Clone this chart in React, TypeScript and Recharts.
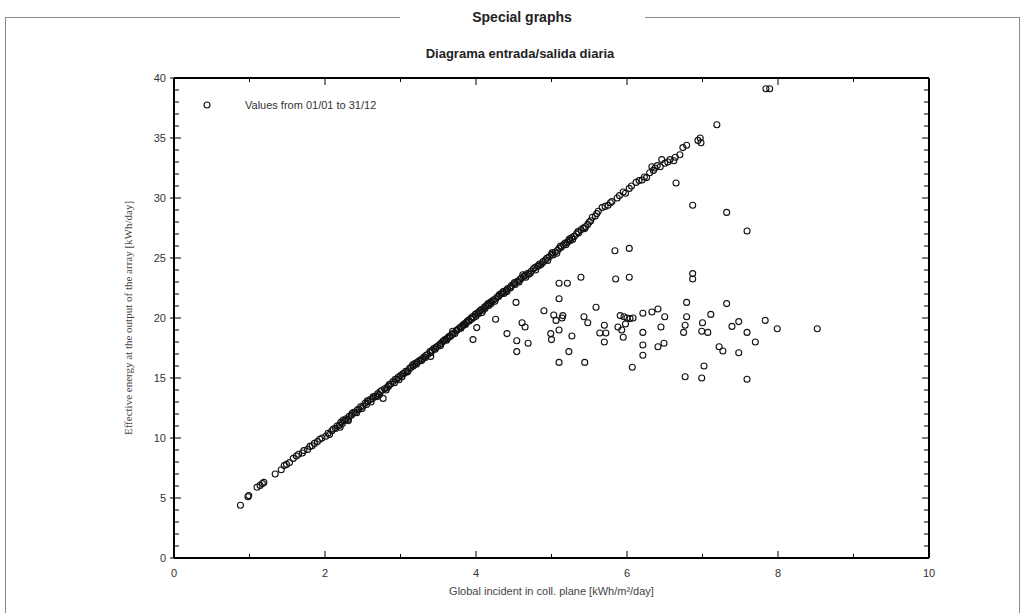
import { ScatterChart, Scatter, XAxis, YAxis, Legend, Label } from "recharts";

type Pair = [number, number];

const xTicks = [0, 1, 2, 3, 4, 5, 6, 7, 8, 9, 10];
const yTicks = Array.from({ length: 41 }, (_, i) => i);
const xLabelEvery = 2;
const yLabelEvery = 5;

// days on the linear part
const dimDays: Pair[] = [
  [0.88, 4.4], [0.98, 5.1], [0.99, 5.2], [1.1, 5.9], [1.14, 6.05], [1.17, 6.2], [1.19, 6.3],
  [1.34, 7.0], [1.42, 7.35], [1.46, 7.7], [1.49, 7.8], [1.53, 7.95], [1.58, 8.3], [1.62, 8.5],
  [1.65, 8.65], [1.7, 8.75], [1.72, 8.95], [1.77, 9.05], [1.8, 9.3], [1.83, 9.35], [1.86, 9.55],
  [1.9, 9.7], [1.93, 9.9], [1.96, 10.0],
];

const averageDays: Pair[] = [
  [2.01, 10.15], [2.04, 10.4], [2.06, 10.3], [2.09, 10.6], [2.11, 10.75], [2.14, 10.8], [2.16, 11.0],
  [2.19, 11.05], [2.21, 11.3], [2.23, 11.2], [2.26, 11.45], [2.28, 11.6], [2.3, 11.55], [2.32, 11.8],
  [2.35, 11.9], [2.38, 12.15], [2.4, 12.1], [2.43, 12.35], [2.45, 12.4], [2.47, 12.6], [2.5, 12.65],
  [2.53, 12.9], [2.55, 12.8], [2.57, 13.05], [2.6, 13.2], [2.63, 13.3], [2.64, 13.45], [2.67, 13.5],
  [2.7, 13.7], [2.72, 13.6], [2.75, 13.95], [2.77, 13.3], [2.79, 14.1], [2.82, 14.2], [2.85, 14.45],
  [2.87, 14.5], [2.9, 14.7], [2.92, 14.6], [2.95, 14.9], [2.97, 15.05], [3.0, 15.2], [3.02, 15.1],
  [3.05, 15.4], [3.07, 15.55], [3.09, 15.5], [3.12, 15.8], [3.14, 15.9], [3.17, 16.0], [3.19, 16.2],
  [3.21, 16.15], [3.24, 16.4], [3.26, 16.5], [3.28, 16.45], [3.31, 16.75], [3.34, 16.9], [3.36, 16.95],
  [3.39, 17.2], [3.42, 17.3], [3.44, 17.45], [3.46, 17.4], [3.49, 17.65], [3.52, 17.8], [3.54, 17.9],
  [3.56, 18.05], [3.59, 18.2], [3.61, 18.15], [3.63, 18.4], [3.65, 18.5], [3.68, 18.6], [3.7, 18.75],
  [3.72, 18.7], [3.74, 18.95], [3.77, 19.1], [3.79, 19.2], [3.81, 19.3], [3.84, 19.5], [3.86, 19.45],
  [3.88, 19.7], [3.9, 19.8], [3.93, 19.95], [3.95, 20.1], [3.97, 20.05], [3.99, 20.3],
];

const brightDays: Pair[] = [
  [4.01, 20.4], [4.03, 20.35], [4.05, 20.6], [4.07, 20.7], [4.09, 20.65], [4.11, 20.9], [4.13, 21.0],
  [4.15, 21.1], [4.17, 21.05], [4.19, 21.3], [4.21, 21.4], [4.23, 21.5], [4.26, 21.6], [4.28, 21.75],
  [4.3, 21.8], [4.33, 22.0], [4.35, 22.1], [4.37, 22.05], [4.4, 22.3], [4.42, 22.45], [4.45, 22.5],
  [4.47, 22.7], [4.5, 22.85], [4.52, 22.8], [4.55, 23.05], [4.58, 23.2], [4.6, 23.3], [4.63, 23.45],
  [4.65, 23.55], [4.68, 23.7], [4.7, 23.65], [4.73, 23.9], [4.76, 24.1], [4.78, 24.2], [4.81, 24.3],
  [4.84, 24.5], [4.86, 24.45], [4.89, 24.7], [4.92, 24.85], [4.94, 25.0], [4.97, 25.1], [5.0, 25.3],
  [5.02, 25.25], [5.05, 25.5], [5.08, 25.65], [5.1, 25.8], [5.13, 25.9], [5.16, 26.1], [5.18, 26.25],
  [5.21, 26.3], [5.23, 26.5], [5.25, 26.45], [5.27, 26.7], [5.3, 26.8], [5.33, 27.0], [5.36, 27.1],
  [5.39, 27.35], [5.42, 27.5], [5.45, 27.6], [5.48, 27.8], [5.52, 28.1], [5.54, 28.4], [5.58, 28.5],
  [5.62, 28.9], [5.67, 29.2], [5.71, 29.3], [5.75, 29.4], [5.8, 29.7], [5.87, 30.0], [5.9, 30.2],
  [5.95, 30.5], [5.98, 30.4], [6.03, 30.8], [6.12, 31.3], [6.16, 31.45], [6.2, 31.5], [6.26, 31.7],
  [6.3, 32.1], [6.33, 32.6], [6.37, 32.5], [6.4, 32.7], [6.44, 32.6], [6.46, 33.2], [6.5, 32.9],
  [6.54, 33.0], [6.57, 33.2], [6.62, 33.1], [6.64, 33.4], [6.7, 33.6], [6.74, 34.2], [6.79, 34.4],
  [6.94, 34.8], [6.97, 35.0], [6.98, 34.6], [7.19, 36.1], [7.84, 39.1], [7.89, 39.1],
];

// second layer of the thick band, where circles pile up
const overlapDays: Pair[] = [
  [2.2, 10.9], [2.24, 11.5], [2.31, 11.45], [2.36, 12.05], [2.42, 12.1], [2.49, 12.45], [2.56, 13.1],
  [2.61, 13.0], [2.69, 13.45], [2.73, 13.85], [2.81, 14.0], [2.84, 14.3], [2.93, 14.9], [2.98, 14.85],
  [3.03, 15.35], [3.1, 15.6], [3.16, 16.1], [3.22, 16.3], [3.29, 16.6], [3.33, 16.7], [3.4, 17.1],
  [3.47, 17.55], [3.53, 17.7], [3.58, 18.15], [3.62, 18.3], [3.66, 18.45], [3.69, 18.9], [3.75, 19.0],
  [3.8, 19.15], [3.83, 19.4], [3.87, 19.6], [3.91, 19.75], [3.94, 19.9], [4.0, 20.15], [4.04, 20.5],
  [4.08, 20.45], [4.12, 20.8], [4.16, 21.2], [4.2, 21.2], [4.25, 21.4], [4.31, 21.95], [4.36, 22.2],
  [4.41, 22.2], [4.46, 22.55], [4.51, 22.95], [4.57, 23.0], [4.62, 23.6], [4.66, 23.4], [4.72, 23.75],
  [4.79, 24.0], [4.83, 24.35], [4.88, 24.6], [4.95, 24.8], [5.01, 25.45], [5.07, 25.4], [5.12, 26.0],
  [5.19, 26.1], [5.24, 26.6], [5.28, 26.55], [5.35, 27.2], [5.44, 27.45], [5.5, 28.0], [5.6, 28.7],
  [5.78, 29.6], [6.06, 31.0], [6.23, 31.75], [6.35, 32.3],
];

// days under the line (output capped around 20 kWh)
const clippedDays: Pair[] = [
  [6.65, 31.25], [6.87, 29.4], [7.32, 28.8], [7.59, 27.25], [5.84, 25.6], [6.03, 25.8],
  [5.1, 22.9], [5.21, 22.9], [5.39, 23.4], [5.85, 23.25], [6.03, 23.4], [6.87, 23.7], [6.87, 23.25],
  [4.53, 21.3], [5.1, 21.6], [5.59, 20.9], [6.79, 21.3], [7.32, 21.2], [4.26, 19.9], [4.9, 20.6],
  [5.03, 20.25], [5.06, 19.8], [5.14, 20.0], [5.15, 20.2], [5.43, 20.1], [5.48, 19.6], [5.7, 19.4],
  [5.91, 20.2], [5.96, 20.1], [6.0, 20.0], [6.04, 19.95], [6.08, 20.0], [6.21, 20.4], [6.33, 20.5],
  [6.41, 20.75], [6.5, 20.1], [5.88, 19.25], [5.93, 19.0], [5.98, 19.5], [6.45, 19.25], [6.77, 19.4],
  [6.79, 20.1], [6.75, 18.8], [7.0, 19.6], [6.99, 18.9], [7.07, 18.8], [7.11, 20.3], [7.39, 19.3],
  [7.48, 19.7], [7.59, 18.8], [4.01, 19.2], [3.96, 18.2], [4.41, 18.7], [4.54, 18.1], [4.69, 17.9],
  [4.61, 19.6], [4.65, 19.25], [4.54, 17.2], [3.4, 16.8], [4.99, 18.7], [5.0, 18.2], [5.1, 19.0],
  [5.27, 18.5], [5.23, 17.2], [5.1, 16.3], [5.44, 16.3], [5.64, 18.75], [5.72, 18.75], [5.7, 18.0],
  [5.95, 18.4], [6.21, 18.8], [6.21, 17.75], [6.21, 16.9], [6.41, 17.6], [6.49, 17.9], [6.07, 15.9],
  [7.02, 16.0], [6.77, 15.1], [6.99, 15.0], [7.22, 17.6], [7.27, 17.25], [7.48, 17.1], [7.59, 14.9],
  [8.52, 19.1], [7.99, 19.1], [7.83, 19.8], [7.7, 18.0],
];

const points = [...dimDays, ...averageDays, ...brightDays, ...overlapDays, ...clippedDays].map(([x, y]) => ({ x, y }));

const tickFont = { fontFamily: '"Liberation Sans", Arial, sans-serif', fontSize: 11, fill: "#333" };

const Ring = (props: any) => (
  <circle cx={props.cx} cy={props.cy} r={3} fill="none" stroke="#111" strokeWidth={1.1} />
);

const NoMark = () => <g />;

const BottomTick = ({ x, y, payload }: any) => {
  const major = payload.value % xLabelEvery === 0;
  return (
    <g>
      <line x1={x} x2={x} y1={y} y2={y - (major ? 7 : 4)} stroke="#000" />
      {major && (
        <text x={x} y={y + 19} textAnchor="middle" {...tickFont}>
          {payload.value}
        </text>
      )}
    </g>
  );
};

const TopTick = ({ x, y, payload }: any) => (
  <line x1={x} x2={x} y1={y} y2={y + (payload.value % xLabelEvery === 0 ? 7 : 4)} stroke="#000" />
);

const LeftTick = ({ x, y, payload }: any) => {
  const major = payload.value % yLabelEvery === 0;
  return (
    <g>
      <line x1={major ? x - 4 : x} x2={x + (major ? 7 : 5)} y1={y} y2={y} stroke="#000" />
      {major && (
        <text x={x - 8} y={y + 4} textAnchor="end" {...tickFont}>
          {payload.value}
        </text>
      )}
    </g>
  );
};

const RightTick = ({ x, y, payload }: any) => (
  <line x1={x} x2={x - (payload.value % yLabelEvery === 0 ? 7 : 5)} y1={y} y2={y} stroke="#000" />
);

const LegendBox = ({ payload }: any) => (
  <div style={{ display: "flex", alignItems: "center", fontFamily: tickFont.fontFamily, fontSize: 11, color: "#333" }}>
    <svg width={10} height={10} style={{ marginRight: 33 }}>
      <circle cx={5} cy={5} r={3} fill="none" stroke="#111" strokeWidth={1.1} />
    </svg>
    <span>{payload && payload[0] ? payload[0].value : ""}</span>
  </div>
);

export default function App() {
  return (
    <div style={{ position: "absolute", left: 0, top: 0, width: 1024, height: 613, background: "#fff", fontFamily: tickFont.fontFamily }}>
      <div style={{ position: "absolute", left: 5, top: 17, width: 395, height: 1, background: "#8a8a8a" }} />
      <div style={{ position: "absolute", left: 645, top: 17, width: 375, height: 1, background: "#8a8a8a" }} />
      <div style={{ position: "absolute", left: 5, top: 17, width: 1, height: 596, background: "#8a8a8a" }} />
      <div style={{ position: "absolute", left: 1019, top: 17, width: 1, height: 596, background: "#8a8a8a" }} />
      <div style={{ position: "absolute", left: 422, top: 9, width: 200, textAlign: "center", fontSize: 14, fontWeight: 700, color: "#222" }}>
        Special graphs
      </div>
      <div style={{ position: "absolute", left: 370, top: 46, width: 300, textAlign: "center", fontSize: 13, fontWeight: 700, color: "#222" }}>
        Diagrama entrada/salida diaria
      </div>
      <ScatterChart width={1024} height={613} margin={{ top: 77, right: 94, bottom: 10, left: 124 }}>
        <XAxis
          type="number"
          dataKey="x"
          domain={[0, 10]}
          ticks={xTicks}
          interval={0}
          height={45}
          tickSize={0}
          tickMargin={0}
          tick={<BottomTick />}
          tickLine={false}
          axisLine={{ stroke: "#000", strokeWidth: 2 }}
        >
          <Label
            value="Global incident in coll. plane [kWh/m²/day]"
            position="insideBottom"
            offset={8}
            style={{ fontFamily: tickFont.fontFamily, fontSize: 11, fill: "#444" }}
          />
        </XAxis>
        <XAxis
          xAxisId="top"
          orientation="top"
          type="number"
          dataKey="x"
          domain={[0, 10]}
          ticks={xTicks}
          interval={0}
          height={1}
          tickSize={0}
          tickMargin={0}
          tick={<TopTick />}
          tickLine={false}
          axisLine={{ stroke: "#000", strokeWidth: 2 }}
        />
        <YAxis
          type="number"
          dataKey="y"
          domain={[0, 40]}
          ticks={yTicks}
          interval={0}
          width={50}
          tickSize={0}
          tickMargin={0}
          tick={<LeftTick />}
          tickLine={false}
          axisLine={{ stroke: "#000", strokeWidth: 2 }}
        >
          <Label
            value="Effective energy at the output of the array [kWh/day]"
            angle={-90}
            position="insideLeft"
            offset={4}
            style={{ textAnchor: "middle", fontFamily: '"Liberation Serif", "Times New Roman", serif', fontSize: 11, fill: "#444" }}
          />
        </YAxis>
        <YAxis
          yAxisId="right"
          orientation="right"
          type="number"
          dataKey="y"
          domain={[0, 40]}
          ticks={yTicks}
          interval={0}
          width={1}
          tickSize={0}
          tickMargin={0}
          tick={<RightTick />}
          tickLine={false}
          axisLine={{ stroke: "#000", strokeWidth: 2 }}
        />
        <Legend
          layout="vertical"
          align="center"
          verticalAlign="middle"
          content={<LegendBox />}
          wrapperStyle={{ position: "absolute", left: 202, top: 99, width: 260, height: 14 }}
        />
        <Scatter name="Values from 01/01 to 31/12" data={points} shape={<Ring />} isAnimationActive={false} />
        <Scatter
          xAxisId="top"
          yAxisId="right"
          data={points}
          shape={<NoMark />}
          legendType="none"
          isAnimationActive={false}
        />
      </ScatterChart>
    </div>
  );
}
